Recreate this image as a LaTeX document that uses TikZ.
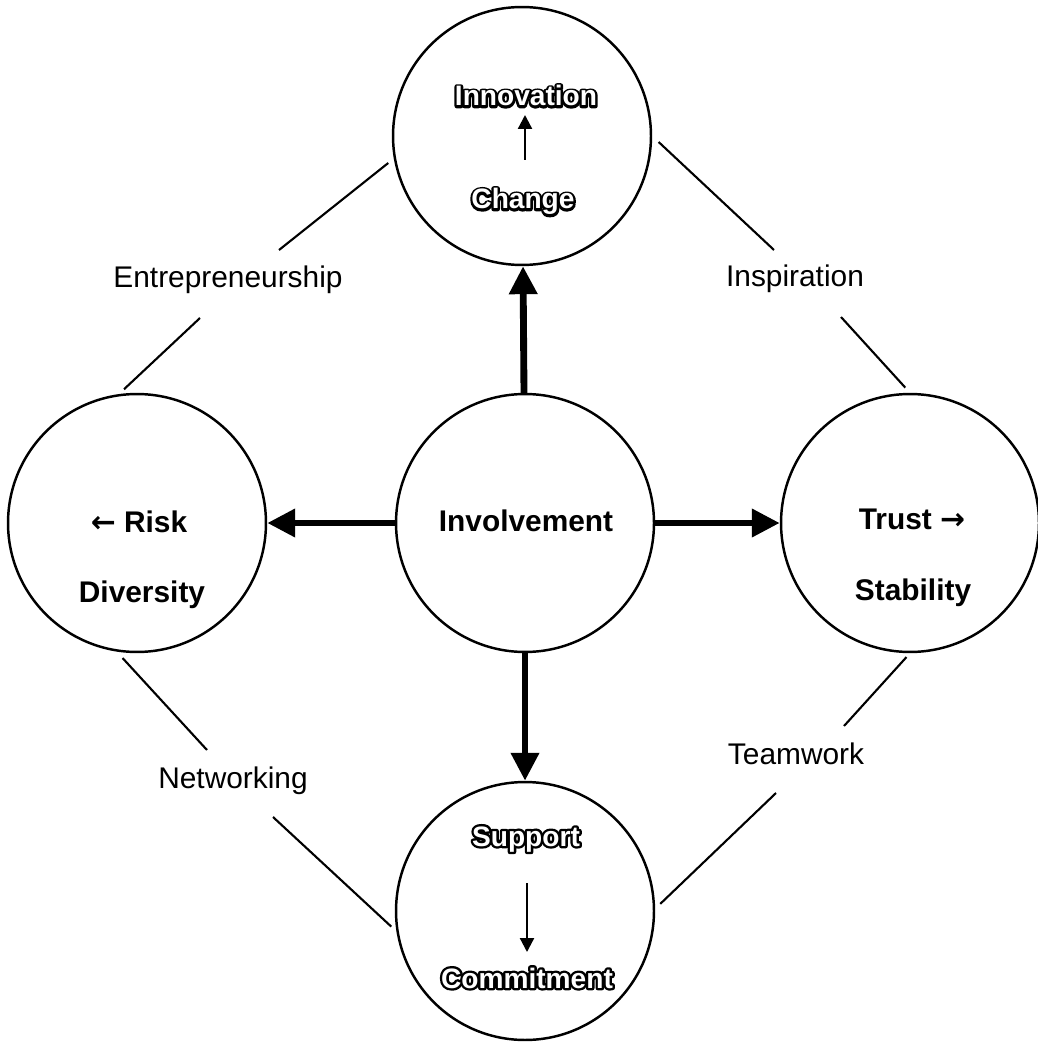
\documentclass[tikz,border=0pt]{standalone}
\usepackage{fontspec}
\setmainfont{Liberation Sans}
\newfontfamily\arrowfont{DejaVu Sans}
\usetikzlibrary{arrows.meta}
% white letters with a black rim: a stroked black copy under a white one
\newcommand\outl[1]{\rlap{\color{black}\addfontfeature{FakeBold=17}#1}{\color{white}#1}}
\begin{document}
\begin{tikzpicture}[x=0.02cm,y=-0.02cm,
  hub/.style={circle,draw,line width=1.4pt,minimum size=5.16cm,inner sep=0pt},
  bigarrow/.style={line width=3.9pt,-{Triangle[length=0.56cm,width=0.54cm]}},
  smallarrow/.style={line width=1.3pt,-{Triangle[length=0.28cm,width=0.28cm]}},
  tie/.style={line width=1.2pt},
  lab/.style={font=\fontsize{17}{20}\selectfont,anchor=base,inner sep=0pt},
  blab/.style={font=\fontsize{17}{20}\selectfont\bfseries,anchor=base,inner sep=0pt},
  olab/.style={font=\fontsize{16}{19}\selectfont\bfseries,anchor=base,inner sep=0pt,
    line join=round}]
\useasboundingbox (0,0) rectangle (1037,1043);

% the five circles
\node[hub] (top)    at (522,136) {};
\node[hub] (left)   at (137,523) {};
\node[hub] (center) at (525,523) {};
\node[hub] (right)  at (910,523) {};
\node[hub] (bot)    at (525,911) {};

% texts inside the circles
\node[blab] (inv) at (526,531) {Involvement};
\node[blab] (risk) at (139,532) {{\arrowfont\bfseries ←} Risk};
\node[blab] (div) at (142,602) {Diversity};
\node[blab] (trust) at (912,529) {Trust {\arrowfont\bfseries →}};
\node[blab] (stab) at (913,600) {Stability};
\node[olab] (innov) at (526,106) {\outl{Innovation}};
\node[olab] (chg) at (523,209) {\outl{Change}};
\node[olab] (supp) at (526,846) {\outl{Support}};
\node[olab] (comm) at (527,988) {\outl{Commitment}};

% arrows inside the top and bottom circles
\coordinate (ca) at (525,160);
\coordinate (cb) at (525,115);
\draw[smallarrow] (ca) -- (cb);
\coordinate (sa) at (527,883);
\coordinate (sb) at (527,952);
\draw[smallarrow] (sa) -- (sb);

% arrows from the central circle
\draw[bigarrow] (center) -- (top);
\draw[bigarrow] (center) -- (left);
\draw[bigarrow] (center) -- (right);
\draw[bigarrow] (center) -- (bot);

% labels on the outer ring
\node[lab] (ent)  at (228,288) {Entrepreneurship};
\node[lab] (insp) at (795,287) {Inspiration};
\node[lab] (net)  at (233,788) {Networking};
\node[lab] (team) at (796,764) {Teamwork};

% ring segments, broken around the labels
\coordinate (ea) at (279,250);
\coordinate (eb) at (200,318);
\coordinate (ia) at (774,250);
\coordinate (ib) at (841,317);
\coordinate (na) at (207,750);
\coordinate (nb) at (273,817);
\coordinate (ta) at (844,726);
\coordinate (tb) at (776,793);
\draw[tie,shorten <=4pt] (top.190) -- (ea);
\draw[tie,shorten >=4pt] (eb) -- (left.98);
\draw[tie,shorten <=5pt] (top.0) -- (ia);
\draw[tie,shorten >=4pt] (ib) -- (right.90);
\draw[tie,shorten <=5pt] (left.261) -- (na);
\draw[tie,shorten >=4pt] (nb) -- (bot.189);
\draw[tie,shorten <=3pt] (right.270) -- (ta);
\draw[tie,shorten >=4pt] (tb) -- (bot.1);
\end{tikzpicture}
\end{document}
